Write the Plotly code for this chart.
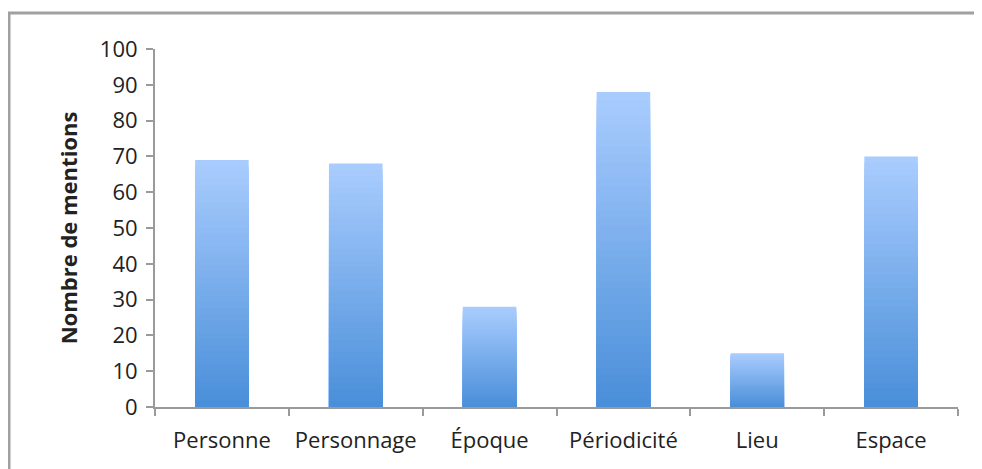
import plotly.graph_objects as go

categories = ["Personne", "Personnage", "Époque", "Périodicité", "Lieu", "Espace"]
mentions = [69, 68, 28, 88, 15, 70]
y_ticks = [0, 10, 20, 30, 40, 50, 60, 70, 80, 90, 100]

TOP = (169, 204, 254)
BOTTOM = (74, 143, 217)
N = 40

fig = go.Figure()
for k in range(N):
    f = k / (N - 1)
    c = tuple(round(TOP[i] + (BOTTOM[i] - TOP[i]) * f) for i in range(3))
    frac = (N - k) / N
    fig.add_trace(go.Bar(
        x=categories,
        y=[v * frac for v in mentions],
        marker=dict(color="rgb(%d,%d,%d)" % c, line=dict(width=0)),
        width=0.4,
        showlegend=False,
        hoverinfo="skip" if k else None,
    ))

# page offset of 8px (body margin) compensated in margins and size
W, H = 974, 461
L, T = 147, 41
PW, PH = 803, 358
font_family = "Open Sans, Liberation Sans, sans-serif"
fig.update_layout(
    width=W, height=H,
    barmode="overlay",
    margin=dict(l=L, r=W - L - PW, t=T, b=H - T - PH),
    paper_bgcolor="white", plot_bgcolor="white",
    font=dict(family=font_family, size=22, color="#222"),
    xaxis=dict(
        showline=True, linecolor="#9a9a9a", linewidth=2,
        ticks="outside", tickson="boundaries", ticklen=7, tickcolor="#9a9a9a", tickwidth=2,
        showgrid=False, ticklabelstandoff=13, tickfont=dict(size=22),
    ),
    yaxis=dict(
        range=[0, 100], tickvals=y_ticks,
        showline=True, linecolor="#9a9a9a", linewidth=2,
        ticks="outside", ticklen=7, tickcolor="#9a9a9a", tickwidth=2,
        showgrid=False, zeroline=False, ticklabelstandoff=4, tickfont=dict(size=22),
        title=dict(text="<b>Nombre de mentions</b>", font=dict(size=22), standoff=16),
    ),
)

fig.add_shape(type="rect", xref="paper", yref="paper",
              x0=(1 - L) / PW, x1=(W + 20 - L) / PW,
              y0=-(H + 20 - T - PH) / PH, y1=(T + PH - 5) / PH,
              line=dict(color="#a0a0a0", width=3), fillcolor="rgba(0,0,0,0)", layer="below")

fig.write_html("out.html")
